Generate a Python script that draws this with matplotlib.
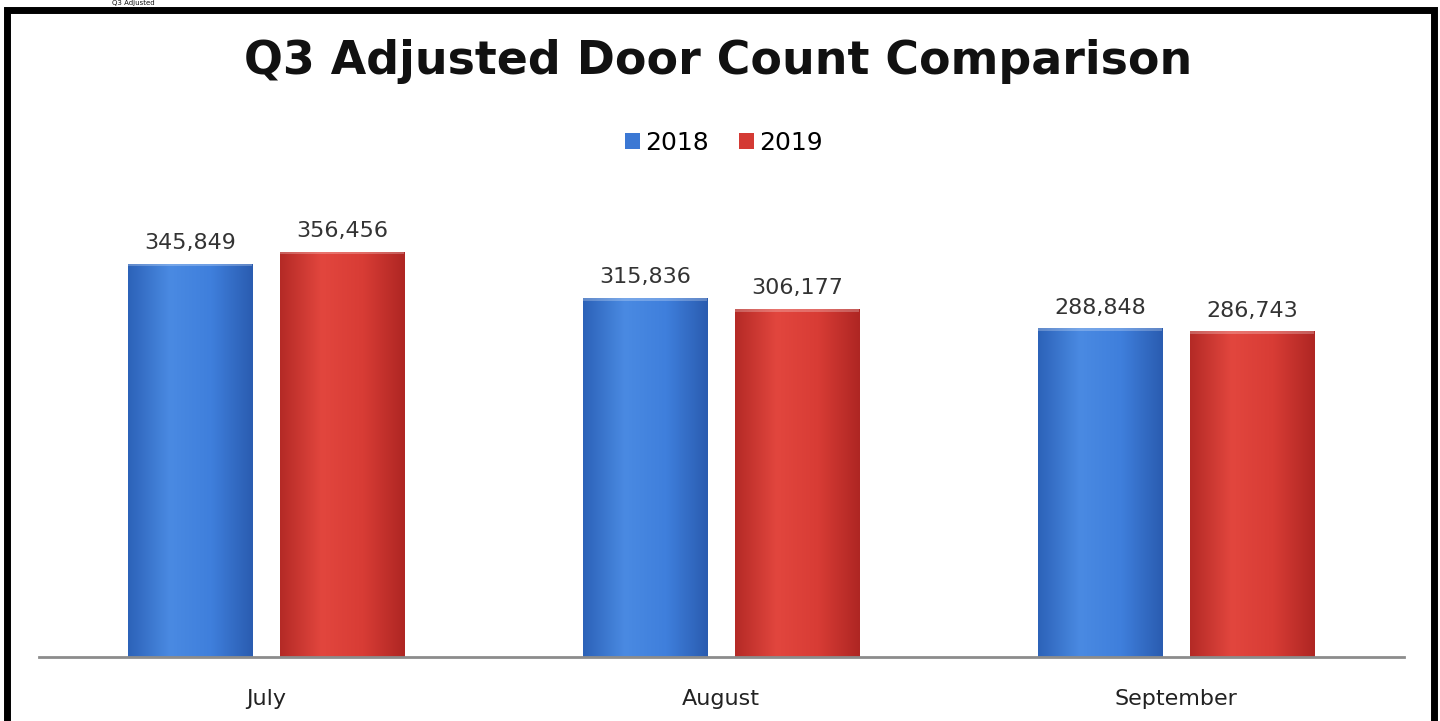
import numpy as np
import matplotlib
matplotlib.use("Agg")
import matplotlib.pyplot as plt
from matplotlib.patches import Rectangle

months = ["July", "August", "September"]
years = ["2018", "2019"]
counts_2018 = [345849, 315836, 288848]
counts_2019 = [356456, 306177, 286743]

blue_cmap = matplotlib.colors.LinearSegmentedColormap.from_list(
    "b", ["#2c62b8", "#4a8ae2", "#3f7fdc", "#2a5cb0"])
red_cmap = matplotlib.colors.LinearSegmentedColormap.from_list(
    "r", ["#b42a26", "#e2463e", "#d83c35", "#ae2623"])

fig = plt.figure(figsize=(14.4, 7.21), dpi=100)
ax = fig.add_axes([38.5 / 1440, 1 - 657 / 721, 1365 / 1440, 455 / 721])

x = np.arange(len(months))
width = 0.273
offset = 0.167

bars_a = ax.bar(x - offset, counts_2018, width, color="#3b78d4", label=years[0], zorder=2)
bars_b = ax.bar(x + offset, counts_2019, width, color="#d43a34", label=years[1], zorder=2)

# horizontal gradient inside each bar
grad = np.linspace(0, 1, 256).reshape(1, -1)
for bars, cmap in [(bars_a, blue_cmap), (bars_b, red_cmap)]:
    for b in bars:
        x0, y0 = b.get_x(), b.get_y()
        w, h = b.get_width(), b.get_height()
        im = ax.imshow(grad, cmap=cmap, aspect="auto", extent=[x0, x0 + w, y0, y0 + h],
                       zorder=2.5, interpolation="bicubic")
        im.set_clip_path(b)
        ax.add_patch(Rectangle((x0, h - 2500), w, 2500, color="white", alpha=0.25,
                               lw=0, zorder=3))
        ax.text(x0 + w / 2, h + 9000, f"{int(h):,}", ha="center", va="bottom",
                fontsize=16, color="#333333", family="DejaVu Sans")

ax.set_xlim(-0.5, 2.5)
ax.set_ylim(0, 400000)
ax.set_xticks(x)
ax.set_xticklabels(months, fontsize=16, color="#222222")
ax.tick_params(axis="x", length=0, pad=23)
ax.set_yticks([])
for s in ["top", "right", "left"]:
    ax.spines[s].set_visible(False)
ax.spines["bottom"].set_color("#8c8c8c")
ax.spines["bottom"].set_linewidth(2)

leg = ax.legend(loc="center", bbox_to_anchor=(724 / 1440, 1 - 143 / 721),
                bbox_transform=fig.transFigure, ncol=2, frameon=False, fontsize=18,
                handlelength=0.6, handleheight=0.6, handletextpad=0.2, columnspacing=1.2)

fig.text(718 / 1440, 1 - 62 / 721, "Q3 Adjusted Door Count Comparison", ha="center",
         va="center", fontsize=33, fontweight="bold", family="DejaVu Sans", color="#111111")

# small heading above the frame
fig.text(112 / 1440, 1 - 0.5 / 721, "Q3 Adjusted", ha="left", va="top",
         fontsize=5, family="DejaVu Sans", color="#111111")

# black frame
fig.add_artist(Rectangle((7 / 1440, -0.05), (1434 - 7) / 1440, 1.05 - 10 / 721,
                         transform=fig.transFigure, fill=False, edgecolor="black",
                         linewidth=5, zorder=10))

fig.savefig("out.png", dpi=100)
